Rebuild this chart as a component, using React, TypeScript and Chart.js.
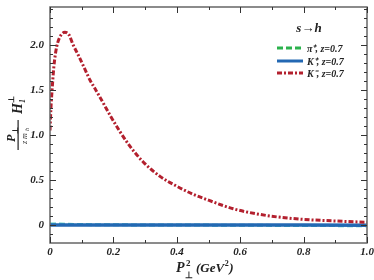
import React, { useEffect, useRef } from "react";
import { Chart, registerables } from "chart.js";

Chart.register(...registerables);

// K- , z=0.7
const kmX = [0, 0.003, 0.007, 0.012, 0.018, 0.024, 0.035, 0.047, 0.06, 0.073, 0.09, 0.11, 0.126, 0.14, 0.163, 0.19, 0.22, 0.252, 0.294, 0.347, 0.4, 0.452, 0.5, 0.578, 0.684, 0.789, 0.894, 1.0];
const kmY = [1.05, 1.3, 1.52, 1.75, 1.92, 2.02, 2.11, 2.14, 2.11, 2.0, 1.88, 1.73, 1.61, 1.525, 1.385, 1.215, 1.04, 0.875, 0.7, 0.54, 0.43, 0.34, 0.275, 0.18, 0.105, 0.065, 0.045, 0.03];
// pi+ , z=0.7
const piX = [0, 0.05, 0.1, 0.2, 0.4, 0.6, 0.8, 1.0];
const piY = [0.012, 0.008, 0.005, 0.002, 0.0, -0.003, -0.006, -0.008];
// K+ , z=0.7
const kpX = [0, 0.2, 0.4, 0.6, 0.8, 1.0];
const kpY = [0.0, 0.0, 0.0, 0.0, 0.0, -0.002];

const xTicks = [0, 0.2, 0.4, 0.6, 0.8, 1.0];
const yTicks = [0, 0.5, 1.0, 1.5, 2.0];
const legendTitle = "s\u2192h";
const legendLabels = ["\u03c0\u207a, z=0.7", "K\u207a, z=0.7", "K\u207b, z=0.7"];
const colors = ["#2bb24c", "#2368b3", "#b3202e"];

const F = "'Liberation Serif', 'Times New Roman', serif";

const pts = (xs: number[], ys: number[]) => xs.map((x, i) => ({ x, y: ys[i] }));

const decorPlugin = {
  id: "decor",
  afterDraw(chart: any) {
    const ctx = chart.ctx as CanvasRenderingContext2D;
    const { left, right, top, bottom } = chart.chartArea;
    const xs = chart.scales.x;
    const ys = chart.scales.y;
    ctx.save();
    // frame
    ctx.strokeStyle = "#666";
    ctx.lineWidth = 1.5;
    ctx.strokeRect(left, top, right - left, bottom - top);
    // ticks
    ctx.strokeStyle = "#333";
    ctx.lineWidth = 1;
    ctx.beginPath();
    for (let i = 0; i <= 10; i++) {
      const v = i / 10;
      const px = Math.round(xs.getPixelForValue(v)) + 0.5;
      const len = i % 2 === 0 ? 6 : 3;
      ctx.moveTo(px, bottom);
      ctx.lineTo(px, bottom - len);
      ctx.moveTo(px, top);
      ctx.lineTo(px, top + len);
    }
    for (let i = -1; i <= 24; i++) {
      const v = i / 10;
      const py = Math.round(ys.getPixelForValue(v)) + 0.5;
      if (py < top || py > bottom) continue;
      const len = i % 5 === 0 ? 6 : 3;
      ctx.moveTo(left, py);
      ctx.lineTo(left + len, py);
      ctx.moveTo(right, py);
      ctx.lineTo(right - len, py);
    }
    ctx.stroke();

    // legend
    ctx.fillStyle = "#222";
    ctx.textBaseline = "middle";
    ctx.textAlign = "center";
    ctx.font = `italic bold 13px ${F}`;
    ctx.fillText(legendTitle, 309, 29);
    const rows = [48, 61, 73];
    const dashes = [[6, 3], [], [5, 2, 2, 2]];
    legendLabels.forEach((lab, i) => {
      ctx.strokeStyle = colors[i];
      ctx.lineWidth = 3;
      ctx.setLineDash(dashes[i]);
      ctx.beginPath();
      ctx.moveTo(277, rows[i]);
      ctx.lineTo(303, rows[i]);
      ctx.stroke();
      ctx.setLineDash([]);
      ctx.textAlign = "left";
      ctx.font = `italic bold 10px ${F}`;
      ctx.fillStyle = "#222";
      ctx.fillText(lab, 307, rows[i] + 1);
    });

    // y title
    ctx.textBaseline = "alphabetic";
    ctx.save();
    ctx.translate(18, 150);
    ctx.rotate(-Math.PI / 2);
    ctx.fillStyle = "#222";
    ctx.textAlign = "left";
    ctx.font = `italic bold 12px ${F}`;
    ctx.fillText("P", 8, -3);
    ctx.font = `bold 8px ${F}`;
    ctx.fillText("\u22a5", 16, 0);
    ctx.fillRect(0, -0.5, 30, 1.2);
    ctx.font = `italic 8px ${F}`;
    ctx.fillText("z m", 6, 9);
    ctx.font = `italic 6px ${F}`;
    ctx.fillText("h", 19, 11);
    ctx.font = `italic bold 14px ${F}`;
    ctx.fillText("H", 36, 4);
    ctx.font = `bold 8px ${F}`;
    ctx.fillText("\u22a5", 47, -4);
    ctx.font = `italic bold 8px ${F}`;
    ctx.fillText("1", 47, 7);
    ctx.restore();

    // x title
    ctx.fillStyle = "#222";
    ctx.textAlign = "left";
    ctx.font = `italic bold 14px ${F}`;
    ctx.fillText("P", 176, 272);
    ctx.font = `bold 9px ${F}`;
    ctx.fillText("2", 186, 266);
    ctx.fillText("\u22a5", 185, 278);
    ctx.font = `italic bold 13px ${F}`;
    let x0 = 196;
    ctx.fillText("(GeV", x0, 272);
    x0 += ctx.measureText("(GeV").width;
    ctx.font = `bold 8px ${F}`;
    ctx.fillText("2", x0 + 0.5, 266);
    x0 += ctx.measureText("2").width + 1;
    ctx.font = `italic bold 13px ${F}`;
    ctx.fillText(")", x0, 272);
    ctx.restore();
  },
};

export default function App() {
  const ref = useRef<HTMLCanvasElement | null>(null);
  useEffect(() => {
    document.body.style.margin = "0";
    const canvas = ref.current;
    if (!canvas) return;
    const chart = new Chart(canvas, {
      type: "line",
      data: {
        datasets: [
          {
            label: legendLabels[2],
            data: pts(kmX, kmY),
            borderColor: colors[2],
            borderWidth: 3,
            borderDash: [5, 2, 2, 2],
            pointRadius: 0,
            cubicInterpolationMode: "monotone",
            fill: false,
            order: 0,
          },
          {
            label: legendLabels[1],
            data: pts(kpX, kpY),
            borderColor: colors[1],
            borderWidth: 3.5,
            pointRadius: 0,
            fill: false,
            order: 1,
          },
          {
            label: legendLabels[0],
            data: pts(piX, piY),
            borderColor: "#4cc9c0",
            borderWidth: 3,
            borderDash: [6, 3],
            pointRadius: 0,
            cubicInterpolationMode: "monotone",
            fill: false,
            order: 2,
          },
        ],
      },
      options: {
        animation: false,
        responsive: true,
        maintainAspectRatio: false,
        layout: { padding: { top: 7, right: 7, left: 0, bottom: 0 } },
        plugins: { legend: { display: false }, tooltip: { enabled: false } },
        scales: {
          x: {
            type: "linear",
            min: 0,
            max: 1,
            grid: { display: false, drawTicks: false },
            border: { display: false },
            afterFit: (s: any) => {
              s.height = 37;
              s.paddingLeft = 0;
              s.paddingRight = 0;
            },
            afterBuildTicks: (s: any) => {
              s.ticks = xTicks.map((v) => ({ value: v }));
            },
            ticks: {
              padding: 3,
              color: "#222",
              font: { family: F, size: 11, style: "italic", weight: "bold" },
              maxRotation: 0,
              callback: (v: any) => (Number(v) === 0 ? "0" : Number(v).toFixed(1)),
            },
          },
          y: {
            type: "linear",
            min: -0.2,
            max: 2.42,
            grid: { display: false, drawTicks: false },
            border: { display: false },
            afterFit: (s: any) => {
              s.width = 50;
              s.paddingTop = 0;
              s.paddingBottom = 0;
            },
            afterBuildTicks: (s: any) => {
              s.ticks = yTicks.map((v) => ({ value: v }));
            },
            ticks: {
              padding: 6,
              color: "#222",
              font: { family: F, size: 11, style: "italic", weight: "bold" },
              callback: (v: any) => (Number(v) === 0 ? "0" : Number(v).toFixed(1)),
            },
          },
        },
      },
      plugins: [decorPlugin],
    } as any);
    return () => chart.destroy();
  }, []);
  return (
    <div style={{ position: "relative", width: 374, height: 280 }}>
      <canvas ref={ref} />
    </div>
  );
}
